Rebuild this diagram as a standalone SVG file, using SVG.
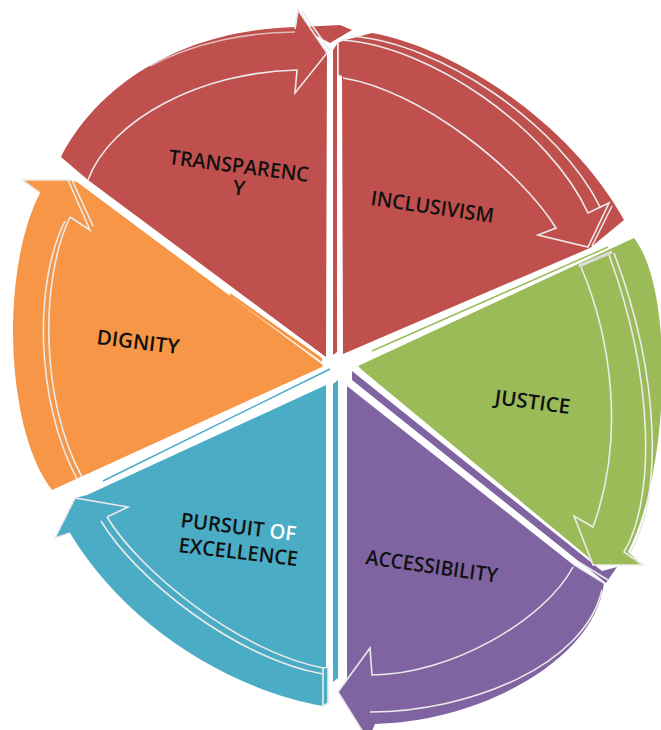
<svg xmlns="http://www.w3.org/2000/svg" width="661" height="730" viewBox="0 0 661 730">
<style>
.ln{fill:none;stroke:#ebebeb;stroke-width:1.6;stroke-linejoin:miter}
.lbl{font-family:"Open Sans",Lato,"Liberation Sans",sans-serif;font-size:20.5px;font-weight:600;fill:#111}
.red{fill:#C0504D}.org{fill:#F79646}.grn{fill:#9BBB59}.pur{fill:#8064A2}.blu{fill:#4BACC6}
</style>
<rect width="661" height="730" fill="#ffffff"/>

<g id="transparency">
<path class="red" d="M326,357 L327,53 L298,10 L296,27 C175,30 95,90 61,157 L88,180 Z"/>
<path class="red" d="M300,27 L340,25 L352,30 L330,43 Z"/>
<path class="ln" d="M88,180 C110,120 200,72 297,70 L295,93 L327,53 L298,10 L295,29"/>
<path class="ln" d="M302,11 L330,51"/>
<path class="ln" d="M150,66 C195,42 250,32 295,32" opacity="0.7"/>
<text class="lbl" transform="translate(168,164) rotate(7.3)" textLength="141" lengthAdjust="spacingAndGlyphs">TRANSPARENC</text>
<text class="lbl" transform="translate(238,195) rotate(7.3)" text-anchor="middle">Y</text>
</g>

<g id="inclusivism">
<path class="red" d="M343,354 L342,77 L338,75 L338,42 L372,33 C455,48 570,122 624,220 L590,248 Z"/>
<path class="red" d="M333,50 L337,44 L337,352 L333,355 Z"/>
<path class="ln" d="M342,77 L338,75 L338,42 L346,39"/>
<path class="ln" d="M343,78 C420,90 520,170 556,228 L538,235 L588,247 L609,203 L588,213 C550,130 430,45 341,40"/>
<path class="ln" d="M350,36 C440,42 560,125 600,207"/>
<path class="ln" d="M592,246 L612,206"/>
<text class="lbl" transform="translate(370,205) rotate(8.3)" textLength="124" lengthAdjust="spacingAndGlyphs">INCLUSIVISM</text>
</g>

<g id="accessibility">
<path class="pur" d="M352,371 L602,571 L617,567 L606,583 L352,380 Z"/>
<path class="pur" d="M347,386 L571,563 L604,583 C595,660 480,722 375,724 L368,740 L338,692 L347,680 Z"/>
<path class="ln" d="M573,564 L604,583"/>
<path class="ln" d="M577,561 L608,580"/>
<path class="ln" d="M573,567 C545,620 450,675 372,675 L370,648 L338,692 L368,740"/>
<path class="ln" d="M370,712 C470,712 585,665 602,590"/>
<text class="lbl" transform="translate(365,564) rotate(8.1)" textLength="133" lengthAdjust="spacingAndGlyphs">ACCESSIBILITY</text>
</g>

<g id="justice">
<line x1="608" y1="247" x2="372" y2="351" stroke="#9BBB59" stroke-width="1.5"/>
<path class="grn" d="M358,366 L634,238 C675,290 670,470 628,552 L643,565 L593,565 L588,557 L362,370 Z"/>
<path d="M579,266 L612,252" stroke="#dcdcdc" stroke-width="3" fill="none"/>
<path class="ln" d="M581,267 C612,340 625,440 593,527 L574,516 L593,565 L643,565 L624,552 C655,500 655,380 609,255"/>
<path class="ln" d="M630,553 C662,500 662,380 614,253"/>
<text class="lbl" transform="translate(494,404) rotate(7.6)" textLength="76" lengthAdjust="spacingAndGlyphs">JUSTICE</text>
</g>

<g id="pursuit-of-excellence">
<path class="blu" d="M333,384 L338,380 L338,678 L333,682 Z"/>
<line x1="103" y1="481" x2="330" y2="369" stroke="#4BACC6" stroke-width="1.5"/>
<path class="blu" d="M326,385 L326,667 L328,667 L328,703 L323,706 C230,690 125,625 70,533 L55,538 L75,498 L87,495 Z"/>
<path class="ln" d="M107,517 L128,507 L75,498 L55,538 L70,533"/>
<path class="ln" d="M107,517 C140,572 240,652 323,668"/>
<path class="ln" d="M101,521 C135,578 236,659 323,674"/>
<path class="ln" d="M323,668 L328,667 L328,703 L323,706 Z"/>
<text class="lbl" transform="translate(180,527) rotate(6.9)" textLength="116" lengthAdjust="spacingAndGlyphs">PURSUIT <tspan fill="#ffffff">OF</tspan></text>
<text class="lbl" transform="translate(178,552) rotate(6.7)" textLength="120" lengthAdjust="spacingAndGlyphs">EXCELLENCE</text>
</g>

<g id="dignity">
<path class="org" d="M230,293 L322,358 L322,362 L230,296 Z"/>
<path class="org" d="M323,365 L77,182 L68,180 L22,180 L40,193 C0,270 5,430 52,490 L322,367 Z"/>
<path class="ln" d="M40,193 L22,180 L68,180 L90,230 L70,217"/>
<path class="ln" d="M72,180 L93,226"/>
<path class="ln" d="M70,217 C40,280 40,400 82,477"/>
<path class="ln" d="M65,221 C34,282 35,400 77,479"/>
<text class="lbl" transform="translate(96,344) rotate(7)" textLength="83" lengthAdjust="spacingAndGlyphs">DIGNITY</text>
</g>

<g id="connectors"/>
</svg>
